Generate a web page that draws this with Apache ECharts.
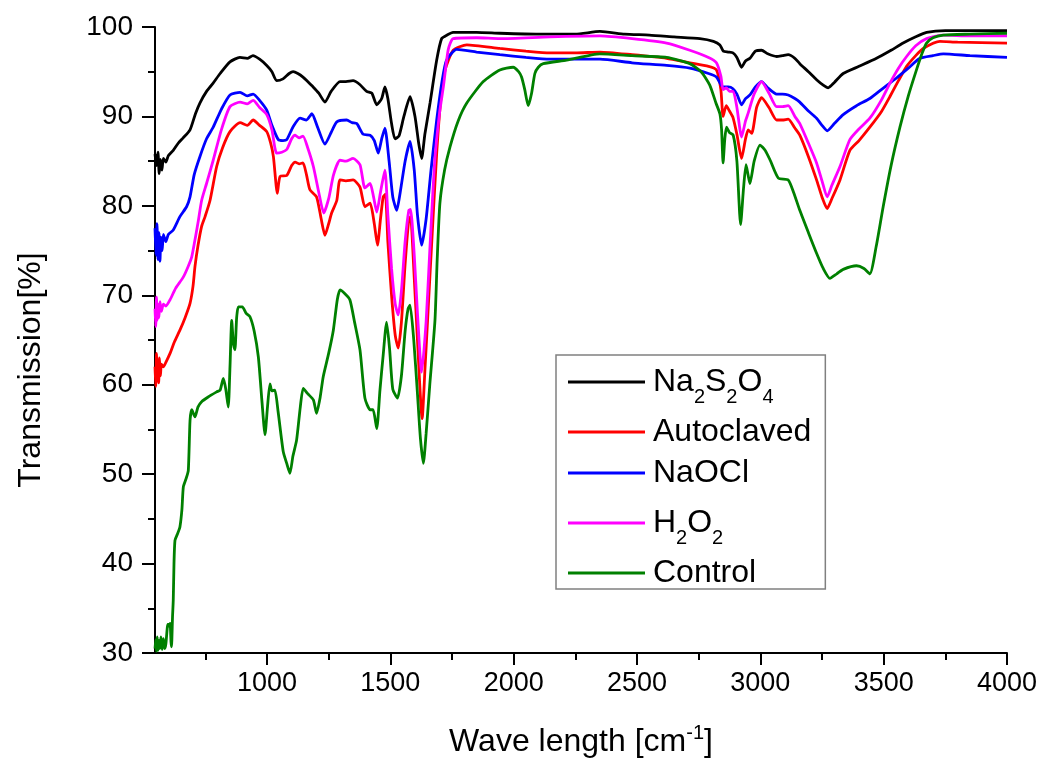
<!DOCTYPE html>
<html>
<head>
<meta charset="utf-8">
<script src="https://cdn.jsdelivr.net/npm/echarts@6/dist/echarts.min.js"></script>
<style>
html,body{margin:0;padding:0;background:#fff;}
#chart{width:1042px;height:760px;}
</style>
</head>
<body>
<div id="chart"></div>
<script>
// ---- Data (wavenumber [cm^-1], transmission [%]) ----
const seriesNames = ['Na2S2O4', 'Autoclaved', 'NaOCl', 'H2O2', 'Control'];
const seriesColors = ['#000000', '#ff0000', '#0000ff', '#ff00ff', '#008000'];

const xMajorTicks = [1000, 1500, 2000, 2500, 3000, 3500, 4000];
const xMinorTicks = [750, 1250, 1750, 2250, 2750, 3250, 3750];
const yTicks = [30, 40, 50, 60, 70, 80, 90, 100];

const na2s2o4 = [[546,85.8],[552,84.5],[558,86.0],[563,83.6],[568,85.2],[574,84.0],[580,85.3],[590,84.9],[600,85.6],[620,86.2],[640,87.0],[660,87.6],[688,88.5],[710,90.3],[728,91.5],[755,92.8],[781,93.7],[810,94.8],[850,96.1],[890,96.6],[920,96.5],[943,96.8],[970,96.4],[999,95.7],[1020,95.0],[1039,94.0],[1065,94.2],[1090,94.8],[1106,95.0],[1125,94.8],[1146,94.4],[1165,93.9],[1187,93.3],[1210,92.6],[1235,91.6],[1260,92.8],[1296,93.9],[1320,93.9],[1349,94.0],[1375,93.6],[1404,92.8],[1425,92.6],[1445,91.3],[1465,92.0],[1478,93.3],[1490,92.0],[1505,89.2],[1519,87.5],[1535,87.8],[1555,90.0],[1580,92.2],[1600,90.0],[1615,87.0],[1627,85.3],[1640,88.0],[1661,91.5],[1688,96.3],[1708,98.7],[1730,99.1],[1754,99.4],[1850,99.4],[1944,99.3],[2100,99.2],[2250,99.2],[2350,99.5],[2450,99.2],[2550,99.1],[2650,98.9],[2755,98.7],[2810,98.4],[2836,98.0],[2850,97.3],[2870,97.2],[2889,97.1],[2905,96.6],[2924,95.5],[2940,96.2],[2958,96.5],[2980,97.3],[3005,97.4],[3030,97.0],[3066,96.7],[3090,96.8],[3113,96.9],[3140,96.5],[3160,95.9],[3195,95.0],[3228,94.1],[3255,93.5],[3275,93.2],[3300,93.8],[3336,94.8],[3400,95.6],[3471,96.5],[3530,97.4],[3579,98.2],[3630,98.9],[3674,99.4],[3750,99.6],[3850,99.6],[4000,99.6]];

const autoclaved = [[546,62.0],[549,59.8],[552,63.5],[555,60.5],[558,62.8],[561,60.2],[564,63.0],[568,61.0],[572,62.3],[580,62.0],[590,62.5],[607,63.5],[625,64.8],[647,66.1],[668,67.5],[688,69.1],[700,71.0],[708,73.2],[720,75.5],[735,77.7],[749,78.8],[769,80.6],[796,84.4],[820,86.5],[850,88.3],[891,89.3],[920,89.0],[944,89.6],[970,89.0],[999,88.3],[1015,87.0],[1026,85.5],[1042,81.4],[1053,83.3],[1080,83.4],[1100,84.5],[1114,84.9],[1130,84.7],[1146,84.8],[1160,83.5],[1174,81.8],[1201,81.0],[1220,78.5],[1235,76.7],[1250,78.0],[1262,79.2],[1283,80.6],[1296,82.9],[1320,82.8],[1349,82.9],[1377,82.1],[1397,79.9],[1418,80.3],[1435,78.0],[1448,75.6],[1460,78.5],[1471,81.0],[1480,81.3],[1490,76.0],[1505,70.0],[1520,65.5],[1532,64.1],[1545,67.0],[1560,73.5],[1575,78.5],[1582,78.8],[1595,73.0],[1610,65.0],[1629,56.2],[1640,61.5],[1651,67.2],[1670,77.0],[1688,85.9],[1705,92.0],[1722,95.2],[1755,97.4],[1810,98.0],[1944,97.6],[2050,97.3],[2147,97.1],[2250,97.1],[2350,97.2],[2480,96.9],[2620,96.5],[2714,96.0],[2790,95.6],[2822,95.2],[2840,93.0],[2849,90.0],[2862,91.2],[2875,90.6],[2889,89.9],[2905,88.0],[2924,85.3],[2940,87.5],[2951,88.5],[2965,88.1],[2985,91.0],[3005,92.1],[3035,91.0],[3066,89.6],[3090,89.6],[3113,89.7],[3140,88.7],[3160,87.9],[3195,85.5],[3228,82.9],[3250,81.0],[3271,79.7],[3290,80.8],[3323,82.9],[3363,86.2],[3400,87.3],[3444,88.8],[3490,90.5],[3525,92.2],[3560,94.0],[3593,95.6],[3630,96.8],[3660,97.6],[3728,98.4],[3800,98.3],[4000,98.2]];

const naocl = [[546,77.5],[550,74.5],[554,78.0],[558,74.0],[562,77.0],[566,73.8],[570,76.5],[575,75.0],[580,76.8],[590,76.0],[600,76.8],[620,77.3],[647,78.8],[674,79.9],[688,81.0],[705,83.5],[728,85.5],[755,87.5],[782,88.8],[815,90.8],[850,92.4],[891,92.7],[920,92.3],[944,92.5],[970,91.8],[999,90.7],[1020,89.0],[1046,87.4],[1065,87.3],[1080,87.4],[1105,88.8],[1134,89.8],[1160,89.6],[1182,90.3],[1205,88.8],[1235,86.9],[1260,88.2],[1283,89.4],[1323,89.6],[1345,89.3],[1364,89.2],[1390,88.0],[1418,87.9],[1435,87.3],[1451,85.9],[1465,87.5],[1478,88.7],[1495,85.0],[1510,81.0],[1526,79.5],[1540,81.5],[1560,85.0],[1580,87.2],[1597,84.0],[1610,79.0],[1627,75.6],[1645,78.5],[1665,84.0],[1688,89.6],[1710,94.0],[1728,96.3],[1769,97.5],[1850,97.2],[1944,96.9],[2050,96.6],[2147,96.4],[2250,96.4],[2350,96.4],[2480,96.0],[2620,95.7],[2714,95.4],[2790,94.8],[2822,94.4],[2848,93.3],[2870,93.3],[2889,93.1],[2905,92.5],[2924,91.3],[2940,92.0],[2958,92.4],[2980,93.3],[3005,93.9],[3030,93.2],[3066,92.5],[3090,92.5],[3113,92.4],[3140,92.0],[3160,91.6],[3195,90.6],[3228,89.8],[3250,89.0],[3271,88.4],[3300,89.2],[3336,90.2],[3390,91.2],[3444,92.0],[3500,93.2],[3552,94.3],[3600,95.4],[3647,96.5],[3700,96.8],[3742,97.0],[3850,96.8],[4000,96.6]];

const h2o2 = [[546,68.5],[549,66.5],[552,69.8],[555,67.2],[558,69.0],[562,67.5],[566,69.3],[572,68.2],[580,69.0],[590,68.8],[607,69.5],[630,70.8],[660,72.0],[680,73.2],[695,74.3],[710,76.5],[722,78.4],[735,80.6],[755,82.5],[782,85.1],[815,88.5],[850,91.1],[891,91.6],[920,91.4],[944,91.8],[970,91.0],[999,90.2],[1020,88.5],[1039,85.9],[1060,86.0],[1080,86.3],[1100,87.5],[1114,87.9],[1130,87.6],[1146,87.8],[1165,86.5],[1188,84.4],[1210,81.5],[1230,79.2],[1250,80.8],[1270,83.5],[1296,85.1],[1320,85.0],[1349,85.3],[1377,84.6],[1397,82.0],[1418,82.5],[1432,81.0],[1445,79.3],[1460,81.5],[1478,84.0],[1490,79.0],[1505,73.0],[1520,69.0],[1532,67.8],[1545,70.5],[1560,76.0],[1575,79.5],[1582,79.6],[1597,74.5],[1610,68.0],[1627,61.4],[1645,67.0],[1660,75.0],[1680,85.0],[1700,90.5],[1715,93.3],[1735,97.5],[1755,98.7],[1850,98.8],[1944,98.7],[2147,98.9],[2350,99.0],[2480,98.7],[2620,98.2],[2714,97.4],[2790,96.6],[2822,96.0],[2840,94.5],[2849,93.0],[2862,93.2],[2875,92.8],[2890,92.8],[2905,91.0],[2924,87.7],[2940,89.5],[2951,90.4],[2975,92.5],[3005,93.9],[3035,92.6],[3066,91.1],[3090,91.1],[3113,91.2],[3140,90.0],[3160,89.2],[3195,87.0],[3228,84.8],[3250,82.8],[3271,81.0],[3290,82.3],[3323,84.4],[3363,87.4],[3400,88.6],[3444,89.8],[3490,91.8],[3525,93.7],[3560,95.4],[3593,96.7],[3630,97.9],[3674,98.7],[3742,99.1],[3850,99.0],[4000,99.0]];

const control = [[546,30.5],[549,31.5],[552,30.2],[555,31.8],[558,30.3],[562,31.4],[566,30.5],[570,31.8],[575,30.4],[580,31.6],[585,30.5],[590,31.0],[598,33.2],[602,33.0],[607,33.3],[611,31.2],[613,30.7],[617,34.0],[620,35.9],[623,40.0],[627,42.6],[637,43.3],[647,44.1],[655,46.0],[661,48.6],[672,49.5],[681,50.4],[688,56.0],[695,57.2],[708,56.4],[720,57.5],[735,58.1],[760,58.6],[796,59.2],[810,59.4],[823,60.7],[833,59.5],[843,57.5],[850,62.0],[857,67.2],[864,64.5],[870,63.9],[877,67.5],[884,68.7],[900,68.7],[915,68.0],[931,67.6],[948,66.0],[965,63.1],[980,58.0],[992,54.4],[1002,57.5],[1012,60.1],[1020,59.3],[1032,59.4],[1045,57.0],[1066,52.5],[1080,51.2],[1093,50.1],[1105,52.0],[1120,53.8],[1135,57.5],[1147,59.6],[1165,59.0],[1188,58.3],[1201,56.8],[1215,58.5],[1228,60.9],[1250,63.5],[1269,66.1],[1285,69.5],[1296,70.6],[1315,70.2],[1336,69.5],[1355,67.0],[1377,63.9],[1397,58.5],[1418,57.2],[1430,57.2],[1445,55.1],[1458,59.4],[1470,63.0],[1485,67.0],[1497,64.0],[1510,59.5],[1529,58.5],[1545,61.0],[1560,66.0],[1572,68.5],[1580,68.9],[1595,65.0],[1610,59.0],[1622,54.0],[1634,51.2],[1645,54.5],[1660,60.0],[1681,67.2],[1690,74.0],[1701,80.3],[1720,84.0],[1742,86.6],[1775,89.5],[1810,91.5],[1877,93.9],[1944,95.2],[1998,95.5],[2020,95.0],[2032,94.4],[2045,93.0],[2059,91.2],[2072,92.5],[2086,94.8],[2100,95.5],[2120,95.9],[2215,96.3],[2350,97.0],[2480,96.8],[2620,96.6],[2714,95.9],[2760,95.0],[2795,93.5],[2820,91.5],[2836,90.3],[2843,88.5],[2849,84.8],[2856,87.5],[2863,88.8],[2875,88.2],[2890,87.9],[2905,85.0],[2920,77.9],[2932,82.0],[2942,84.6],[2950,83.5],[2958,82.5],[2975,85.0],[2999,86.8],[3020,86.2],[3040,85.1],[3073,83.1],[3113,82.9],[3135,81.5],[3160,79.5],[3195,77.0],[3228,74.7],[3255,73.0],[3282,71.9],[3310,72.4],[3336,72.9],[3390,73.3],[3420,73.0],[3444,72.4],[3470,75.5],[3498,79.9],[3530,84.5],[3566,88.8],[3600,92.3],[3633,95.2],[3655,97.0],[3674,98.2],[3700,98.8],[3742,99.1],[3850,99.2],[4000,99.3]];

const seriesData = [na2s2o4, autoclaved, naocl, h2o2, control];

// legend label markup (subscripts as rich text)
const legendLabels = {
  'Na2S2O4': '{n|Na}{s|2}{n|S}{s|2}{n|O}{s|4}',
  'Autoclaved': '{n|Autoclaved}',
  'NaOCl': '{n|NaOCl}',
  'H2O2': '{n|H}{s|2}{n|O}{s|2}',
  'Control': '{n|Control}'
};

const FONT = "'Liberation Sans', Arial, Helvetica, sans-serif";
const X_MIN = 546, X_MAX = 4000;

const chart = echarts.init(document.getElementById('chart'), null, {renderer: 'canvas'});

const gridPos = {left: 155, right: 35, top: 27, bottom: 107, containLabel: false, outerBoundsMode: 'none'};

const option = {
  animation: false,
  backgroundColor: '#ffffff',
  grid: [Object.assign({}, gridPos), Object.assign({}, gridPos)],
  legend: {
    orient: 'vertical',
    left: 556,
    top: 355,
    data: seriesNames,
    icon: 'rect',
    itemWidth: 77,
    itemHeight: 3,
    itemGap: 9,
    padding: [2, 14, 0, 12],
    borderColor: '#808080',
    borderWidth: 1.5,
    backgroundColor: '#ffffff',
    selectedMode: false,
    formatter: function (name) { return legendLabels[name]; },
    textStyle: {
      padding: [0, 0, 0, 3],
      rich: {
        n: {fontSize: 32, lineHeight: 44, color: '#000', fontFamily: FONT},
        s: {fontSize: 20, lineHeight: 21, padding: [30, 0, 0, 0], color: '#000', fontFamily: FONT}
      }
    }
  },
  xAxis: [
    {
      type: 'value',
      gridIndex: 0,
      min: X_MIN,
      max: X_MAX,
      position: 'bottom',
      name: 'Wave length [cm{sup|-1}]',
      nameLocation: 'middle',
      nameGap: 70,
      nameTextStyle: {
        fontSize: 32, color: '#000', fontFamily: FONT,
        rich: {sup: {fontSize: 20, color: '#000', fontFamily: FONT, padding: [0, 0, 18, 0]}}
      },
      axisLine: {show: true, onZero: false, lineStyle: {color: '#000', width: 2}},
      axisTick: {show: true, customValues: xMajorTicks, length: 12, lineStyle: {color: '#000', width: 2}},
      axisLabel: {
        show: true, customValues: xMajorTicks, fontSize: 27, color: '#000', fontFamily: FONT, margin: 17,
        formatter: function (v) { return String(v); }
      },
      splitLine: {show: false}
    },
    {
      type: 'value',
      gridIndex: 1,
      min: X_MIN,
      max: X_MAX,
      position: 'bottom',
      axisLine: {show: false},
      axisTick: {show: true, customValues: xMinorTicks, length: 7, lineStyle: {color: '#000', width: 2}},
      axisLabel: {show: false},
      splitLine: {show: false}
    }
  ],
  yAxis: [
    {
      type: 'value',
      gridIndex: 0,
      min: 30,
      max: 100,
      interval: 10,
      name: 'Transmission[%]',
      nameLocation: 'middle',
      nameGap: 108,
      nameTextStyle: {fontSize: 32, color: '#000', fontFamily: FONT, padding: [0, 60, 0, 0]},
      axisLine: {show: true, onZero: false, lineStyle: {color: '#000', width: 2}},
      axisTick: {show: true, length: 13, lineStyle: {color: '#000', width: 2}},
      minorTick: {show: true, splitNumber: 2, length: 7, lineStyle: {color: '#000', width: 2}},
      axisLabel: {fontSize: 28, color: '#000', fontFamily: FONT, margin: 22,
        customValues: yTicks,
        formatter: function (v) { return String(v); }},
      splitLine: {show: false},
      minorSplitLine: {show: false}
    },
    {
      type: 'value',
      gridIndex: 1,
      min: 30,
      max: 100,
      show: false
    }
  ],
  series: seriesNames.map(function (name, i) {
    return {
      name: name,
      type: 'line',
      xAxisIndex: 0,
      yAxisIndex: 0,
      data: seriesData[i],
      showSymbol: false,
      symbol: 'none',
      smooth: 0.2,
      color: seriesColors[i],
      lineStyle: {color: seriesColors[i], width: 2.8},
      itemStyle: {color: seriesColors[i]},
      emphasis: {disabled: true},
      z: 2 + i
    };
  })
};

chart.setOption(option);
</script>
</body>
</html>
